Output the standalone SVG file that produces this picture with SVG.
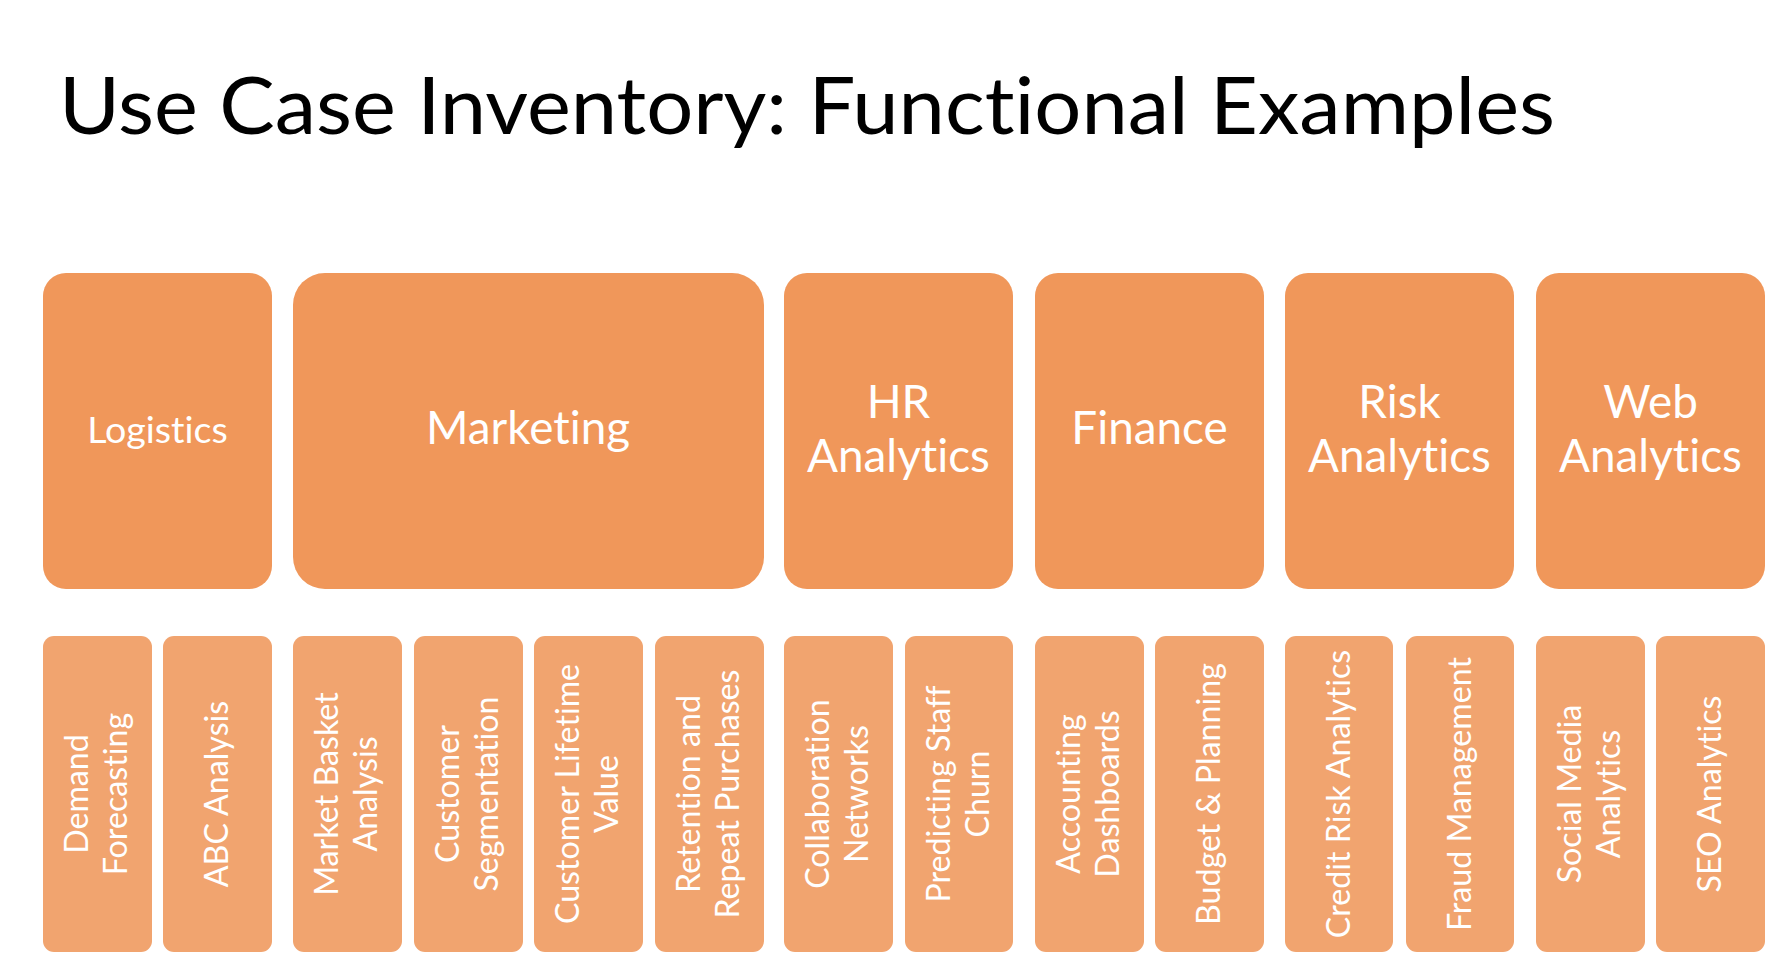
<svg xmlns="http://www.w3.org/2000/svg" width="1773" height="961" viewBox="0 0 1773 961">
<style>
text{font-variant-ligatures:none;font-feature-settings:"liga" 0,"dlig" 0}
.top{fill:#F0975A}
.sub{fill:#F1A46F}
.t{font-family:Lato,"Open Sans","DejaVu Sans",sans-serif;fill:#FFFFFF;text-anchor:middle}
.tl{font-size:45.8px}
.ts{font-size:32.2px}
.title{font-family:Lato,"Open Sans","DejaVu Sans",sans-serif;font-size:79px;fill:#000000}
</style>
<rect width="1773" height="961" fill="#FFFFFF"/>
<text class="title" x="59" y="134" textLength="1496" lengthAdjust="spacingAndGlyphs">Use Case Inventory: Functional Examples</text>
<g id="connectors"/>
<g id="logistics"><rect class="top" x="43" y="273" width="229" height="316" rx="23"/><text class="t" x="157.5" y="443" style="font-size:37.6px">Logistics</text></g>
<g id="marketing"><rect class="top" x="293" y="273" width="471" height="316" rx="32"/><text class="t tl" x="528" y="444">Marketing</text></g>
<g id="hr"><rect class="top" x="784" y="273" width="229" height="316" rx="23"/><text class="t tl" x="898.5" y="418">HR</text><text class="t tl" x="898.5" y="472">Analytics</text></g>
<g id="finance"><rect class="top" x="1035" y="273" width="229" height="316" rx="23"/><text class="t tl" x="1149.5" y="444">Finance</text></g>
<g id="risk"><rect class="top" x="1285" y="273" width="229" height="316" rx="23"/><text class="t tl" x="1399.5" y="418">Risk</text><text class="t tl" x="1399.5" y="472">Analytics</text></g>
<g id="web"><rect class="top" x="1536" y="273" width="229" height="316" rx="23"/><text class="t tl" x="1650.5" y="418">Web</text><text class="t tl" x="1650.5" y="472">Analytics</text></g>

<g id="demand"><rect class="sub" x="43" y="636" width="109" height="316" rx="11"/><g transform="translate(97.5,794) rotate(-90)"><text class="t ts" x="0" y="-9.5">Demand</text><text class="t ts" x="0" y="29.5">Forecasting</text></g></g>
<g id="abc"><rect class="sub" x="163" y="636" width="109" height="316" rx="11"/><g transform="translate(217.5,794) rotate(-90)"><text class="t ts" x="0" y="10.5">ABC Analysis</text></g></g>
<g id="basket"><rect class="sub" x="293" y="636" width="109" height="316" rx="11"/><g transform="translate(347.5,794) rotate(-90)"><text class="t ts" x="0" y="-9.5">Market Basket</text><text class="t ts" x="0" y="29.5">Analysis</text></g></g>
<g id="segmentation"><rect class="sub" x="414" y="636" width="109" height="316" rx="11"/><g transform="translate(468.5,794) rotate(-90)"><text class="t ts" x="0" y="-9.5">Customer</text><text class="t ts" x="0" y="29.5">Segmentation</text></g></g>
<g id="clv"><rect class="sub" x="534" y="636" width="109" height="316" rx="11"/><g transform="translate(588.5,794) rotate(-90)"><text class="t ts" x="0" y="-9.5">Customer Lifetime</text><text class="t ts" x="0" y="29.5">Value</text></g></g>
<g id="retention"><rect class="sub" x="655" y="636" width="109" height="316" rx="11"/><g transform="translate(709.5,794) rotate(-90)"><text class="t ts" x="0" y="-9.5">Retention and</text><text class="t ts" x="0" y="29.5">Repeat Purchases</text></g></g>
<g id="collab"><rect class="sub" x="784" y="636" width="109" height="316" rx="11"/><g transform="translate(838.5,794) rotate(-90)"><text class="t ts" x="0" y="-9.5">Collaboration</text><text class="t ts" x="0" y="29.5">Networks</text></g></g>
<g id="churn"><rect class="sub" x="905" y="636" width="108" height="316" rx="11"/><g transform="translate(959,794) rotate(-90)"><text class="t ts" x="0" y="-9.5">Predicting Staff</text><text class="t ts" x="0" y="29.5">Churn</text></g></g>
<g id="accounting"><rect class="sub" x="1035" y="636" width="109" height="316" rx="11"/><g transform="translate(1089.5,794) rotate(-90)"><text class="t ts" x="0" y="-9.5">Accounting</text><text class="t ts" x="0" y="29.5">Dashboards</text></g></g>
<g id="budget"><rect class="sub" x="1155" y="636" width="109" height="316" rx="11"/><g transform="translate(1209.5,794) rotate(-90)"><text class="t ts" x="0" y="10.5">Budget &amp; Planning</text></g></g>
<g id="credit"><rect class="sub" x="1285" y="636" width="108" height="316" rx="11"/><g transform="translate(1339,794) rotate(-90)"><text class="t ts" x="0" y="10.5">Credit Risk Analytics</text></g></g>
<g id="fraud"><rect class="sub" x="1406" y="636" width="108" height="316" rx="11"/><g transform="translate(1460,794) rotate(-90)"><text class="t ts" x="0" y="10.5">Fraud Management</text></g></g>
<g id="social"><rect class="sub" x="1536" y="636" width="109" height="316" rx="11"/><g transform="translate(1590.5,794) rotate(-90)"><text class="t ts" x="0" y="-9.5">Social Media</text><text class="t ts" x="0" y="29.5">Analytics</text></g></g>
<g id="seo"><rect class="sub" x="1656" y="636" width="109" height="316" rx="11"/><g transform="translate(1710.5,794) rotate(-90)"><text class="t ts" x="0" y="10.5">SEO Analytics</text></g></g>
</svg>
